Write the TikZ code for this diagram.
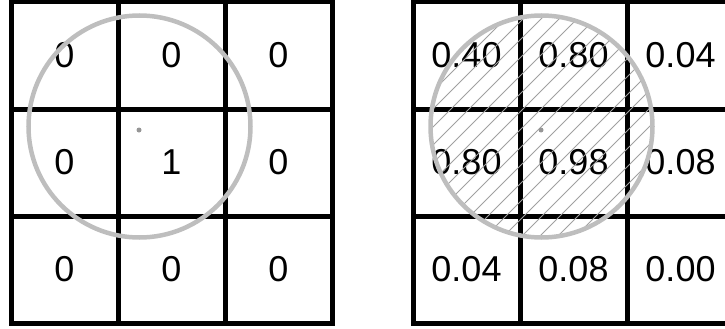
\documentclass[tikz,border=0pt]{standalone}
\usepackage{fontspec}
\setmainfont{Liberation Sans}
\usetikzlibrary{calc}
\definecolor{ringgray}{RGB}{190,190,190}
\definecolor{hatchgray}{RGB}{160,160,160}
\definecolor{dotgray}{RGB}{150,150,150}

\begin{document}
\begin{tikzpicture}[x=1pt, y=-1pt,
  cell/.style={draw=black, line width=5pt, rectangle, minimum size=107pt,
               inner sep=0pt, font=\fontsize{36}{36}\selectfont},
  ring/.style={draw=ringgray, line width=4.5pt},
  hatch/.style={draw=hatchgray, line width=1pt},
  ctr/.style={fill=dotgray, circle, minimum size=5pt, inner sep=0pt},
]
\useasboundingbox (0,0) rectangle (725,329);

% ---- Input grid (left) ----
\foreach \r/\c/\v in {0/0/0, 0/1/0, 0/2/0,
                      1/0/0, 1/1/1, 1/2/0,
                      2/0/0, 2/1/0, 2/2/0}
  \node[cell] (in-\r-\c) at ({64.5+107*\c},{55.5+107*\r}) {\v};

% ---- Output grid (right) ----
\foreach \r/\c/\v in {0/0/0.40, 0/1/0.80, 0/2/0.04,
                      1/0/0.80, 1/1/0.98, 1/2/0.08,
                      2/0/0.04, 2/1/0.08, 2/2/0.00}
  \node[cell] (out-\r-\c) at ({466.5+107*\c},{55.5+107*\r}) {\v};

% ---- Kernel centres ----
\coordinate (inc)  at (139.5,126.5);
\coordinate (outc) at (541.5,126.5);

% ---- Hatching inside the right circle ----
\begin{scope}
  \clip (outc) circle (111);
  \foreach \k in {-14,...,14}
    \draw[hatch] ($(outc)+(\k*18-150,150)$) -- ++(300,-300);
\end{scope}

% ---- Circles and centre dots ----
\draw[ring] (inc) circle (111);
\draw[ring] (outc) circle (111);
\node[ctr] (indot)  at (139,130) {};
\node[ctr] (outdot) at (541,130) {};
\end{tikzpicture}
\end{document}
